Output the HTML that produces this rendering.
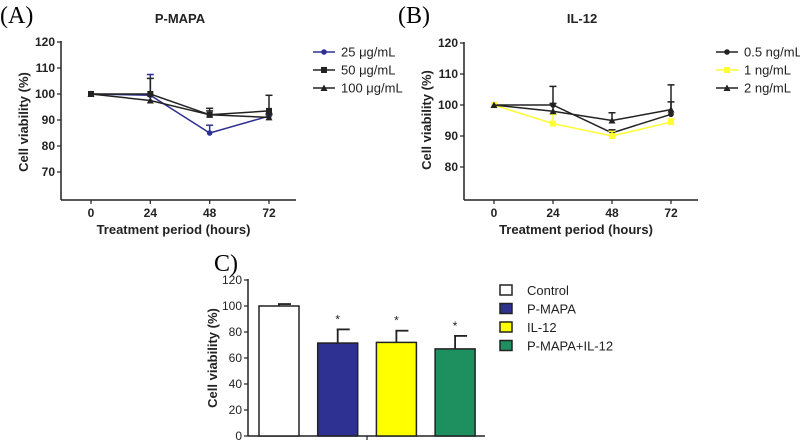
<!DOCTYPE html>
<html><head><meta charset="utf-8"><style>
html,body{margin:0;padding:0;background:#fff;}
svg{display:block;font-family:"Liberation Sans",Arial,sans-serif;}
.b{font-weight:bold;}
</style></head><body>
<svg id="s" width="800" height="442" viewBox="0 0 800 442"></svg>
<script>
const hours=[0,24,48,72];
const aTicks=[70,80,90,100,110,120];
const aS1=[100,99.5,85,91.5], aE1=[0,8,3,1];
const aS2=[100,100,92,93.5], aE2=[0,6,2.5,6];
const aS3=[100,97.5,92,91], aE3=[0,0,1.5,1];
const aLabels=["25 \u03bcg/mL","50 \u03bcg/mL","100 \u03bcg/mL"];
const bTicks=[80,90,100,110,120];
const bS1=[100,100,91,97], bE1=[0,6,1,4];
const bS2=[100,94,90,94.5], bE2=[0,3,1.5,1];
const bS3=[100,98,95,98.5], bE3=[0,2.5,2.5,8];
const bLabels=["0.5 ng/mL","1 ng/mL","2 ng/mL"];
const cCats=["Control","P-MAPA","IL-12","P-MAPA+IL-12"];
const cVals=[100,71.5,72,67];
const cErrs=[1.5,10.5,9,10];
const cTicks=[0,20,40,60,80,100,120];
const cColors=["#ffffff","#2e3192","#ffff00","#1e9060"];

const svg=document.getElementById('s');
const NS="http://www.w3.org/2000/svg";
function el(tag,attrs,name,txt){const e=document.createElementNS(NS,tag);for(const k in attrs)e.setAttribute(k,attrs[k]);


if(txt!==undefined)e.textContent=txt;svg.appendChild(e);return e;}

function marker(type,x,y,c,name){
 if(type==0)el('circle',{cx:x,cy:y,r:2.8,fill:c},name);
 else if(type==1)el('rect',{x:x-3,y:y-3,width:6,height:6,fill:c},name);
 else el('polygon',{points:`${x},${y-3.5} ${x+3.5},${y+3} ${x-3.5},${y+3}`,fill:c},name);
}

function linePanel(o){
 const X=h=>o.x0+h/72*(o.x72-o.x0);
 const Y=v=>o.y100+(100-v)*o.k;
 el('text',{x:o.tx,y:23,'font-size':13,'text-anchor':'middle',class:'b',fill:'#222'},o.pfx+'title',o.title);
 el('line',{x1:o.ax,y1:Y(o.ticks[o.ticks.length-1])-1,x2:o.ax,y2:200,stroke:'#222','stroke-width':1.5},o.pfx+'y-axis');
 el('line',{x1:o.ax,y1:200,x2:o.axEnd,y2:200,stroke:'#222','stroke-width':1.5},o.pfx+'x-axis');
 o.ticks.forEach(t=>{el('line',{x1:o.ax-4,y1:Y(t),x2:o.ax,y2:Y(t),stroke:'#222','stroke-width':1.2},o.pfx+'y-tick');
  el('text',{x:o.ax-6,y:Y(t)+4,'font-size':12,'text-anchor':'end',class:'b',fill:'#222'},o.pfx+'y-tick-label',t);});
 hours.forEach(h=>{el('line',{x1:X(h),y1:200,x2:X(h),y2:204,stroke:'#222','stroke-width':1.2},o.pfx+'x-tick');
  el('text',{x:X(h),y:217,'font-size':12,'text-anchor':'middle',class:'b',fill:'#222'},o.pfx+'x-tick-label',h);});
 el('text',{x:(o.ax+o.axEnd)/2-5,y:234,'font-size':13,'text-anchor':'middle',class:'b',fill:'#222'},o.pfx+'x-axis-title','Treatment period (hours)');
 el('text',{x:0,y:0,'font-size':13,'text-anchor':'middle',class:'b',fill:'#222',transform:`translate(${o.ax-33},${(Y(o.ticks[0])+Y(o.ticks[o.ticks.length-1]))/2+15}) rotate(-90)`},o.pfx+'y-axis-title','Cell viability (%)');
 o.series.forEach((s,i)=>{
  const pts=hours.map((h,j)=>X(h)+','+Y(s.v[j])).join(' ');
  el('polyline',{points:pts,fill:'none',stroke:s.c,'stroke-width':1.5},o.pfx+'line-'+i);
  hours.forEach((h,j)=>{if(s.e[j]>0){const x=X(h),y1=Y(s.v[j]),y2=Y(s.v[j]+s.e[j]);
   el('line',{x1:x,y1:y1,x2:x,y2:y2,stroke:s.c,'stroke-width':1.5},o.pfx+'error-bar');
   el('line',{x1:x-3.5,y1:y2,x2:x+3.5,y2:y2,stroke:s.c,'stroke-width':1.5},o.pfx+'error-cap');}
   marker(s.m,X(h),Y(s.v[j]),s.c,o.pfx+'point');});
  const ly=52+i*18;
  el('line',{x1:o.lx,y1:ly,x2:o.lx+22,y2:ly,stroke:s.c,'stroke-width':1.5},o.pfx+'legend-line');
  marker(s.m,o.lx+11,ly,s.c,o.pfx+'legend-marker');
  el('text',{x:o.lx+28,y:ly+4.5,'font-size':13,fill:'#222'},o.pfx+'legend-entry',o.labels[i]);
 });
}
linePanel({pfx:'a-',title:'P-MAPA',tx:180,ax:61,axEnd:296,x0:91,x72:269,y100:94,k:2.6,ticks:aTicks,lx:313,labels:aLabels,
 series:[{v:aS1,e:aE1,c:'#2e3192',m:0},{v:aS2,e:aE2,c:'#222',m:1},{v:aS3,e:aE3,c:'#222',m:2}]});
linePanel({pfx:'b-',title:'IL-12',tx:582,ax:464,axEnd:698,x0:494,x72:671,y100:105,k:3.1,ticks:bTicks,lx:716,labels:bLabels,
 series:[{v:bS1,e:bE1,c:'#222',m:0},{v:bS2,e:bE2,c:'#ffff33',m:1},{v:bS3,e:bE3,c:'#222',m:2}]});
el('text',{x:0,y:23,'font-size':24,'font-family':'Liberation Serif,serif'},'a-panel-label','(A)');
el('text',{x:398,y:23,'font-size':24,'font-family':'Liberation Serif,serif'},'b-panel-label','(B)');

// Panel C
const cx0=248,cy0=436,ck=1.3;
const CY=v=>cy0-v*ck;
const barX=i=>259+i*58.7, bw=40;
el('text',{x:214,y:271,'font-size':24,'font-family':'Liberation Serif,serif'},'c-panel-label','C)');
el('line',{x1:cx0,y1:CY(120)-1,x2:cx0,y2:cy0,stroke:'#222','stroke-width':1.5},'c-y-axis');
el('line',{x1:cx0,y1:cy0,x2:485,y2:cy0,stroke:'#222','stroke-width':1.5},'c-x-axis');
el('line',{x1:367,y1:cy0,x2:367,y2:cy0+4,stroke:'#222','stroke-width':1.2},'c-x-tick');
cTicks.forEach(t=>{el('line',{x1:cx0-4,y1:CY(t),x2:cx0,y2:CY(t),stroke:'#222','stroke-width':1.2},'c-y-tick');
 el('text',{x:cx0-6,y:CY(t)+4,'font-size':12,'text-anchor':'end',fill:'#222'},'c-y-tick-label',t);});
el('text',{x:0,y:0,'font-size':13,'text-anchor':'middle',class:'b',fill:'#222',transform:`translate(${cx0-31},${CY(60)}) rotate(-90)`},'c-y-axis-title','Cell viability (%)');
cCats.forEach((c,i)=>{
 const x=barX(i),top=CY(cVals[i]),et=CY(cVals[i]+cErrs[i]);
 el('line',{x1:x+bw/2,y1:top,x2:x+bw/2,y2:et,stroke:'#222','stroke-width':1.8},'c-error-bar');
 el('line',{x1:x+bw/2-1,y1:et,x2:x+bw/2+12,y2:et,stroke:'#222','stroke-width':1.8},'c-error-cap');
 el('rect',{x:x,y:top,width:bw,height:cy0-top,fill:cColors[i],stroke:'#222','stroke-width':1.5},'c-bar-'+c.toLowerCase().replace(/[^a-z0-9]+/g,'-'));
 if(i>0)el('text',{x:x+bw/2,y:et-6,'font-size':12,'text-anchor':'middle',fill:'#222'},'c-significance-star','*');
 const ly=290+i*18.5;
 el('rect',{x:500,y:ly-5,width:12,height:10,fill:cColors[i],stroke:'#222','stroke-width':1.5},'c-legend-swatch');
 el('text',{x:527,y:ly+5,'font-size':13,fill:'#222'},'c-legend-entry',c);
});
</script>
</body></html>
